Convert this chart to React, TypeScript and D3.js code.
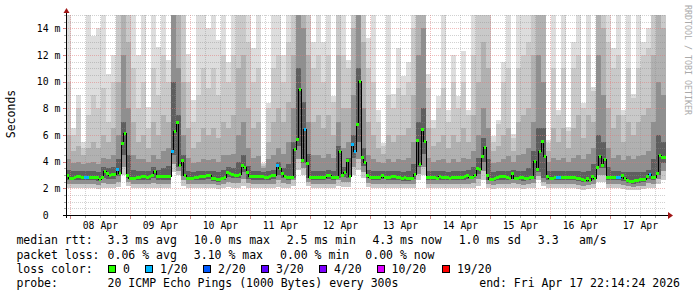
import React from "react";
import * as d3 from "d3";

// ---------------- data ----------------
const END_TIME = new Date(2026, 3, 17, 22, 14, 24);
const SPAN_DAYS = 10;
const Y_MAX_MS = 15;

// hourly median rtt (ms), 240 samples
const medianRtt = [
  3.0, 2.75, 2.75, 2.85, 2.9, 2.9, 2.85, 2.85, 2.85, 2.85,
  2.8, 2.8, 2.8, 2.65, 2.8, 3.3, 3.1, 2.95, 3.05, 3.05,
  3.45, 3.15, 5.4, 6.1, 3.0, 2.75, 2.75, 2.75, 2.8, 2.8,
  2.9, 2.9, 2.85, 2.9, 2.95, 3.3, 2.9, 2.9, 2.9, 2.9,
  2.9, 2.9, 4.75, 6.3, 6.95, 3.75, 4.07, 3.0, 2.75, 2.75,
  2.75, 2.8, 2.85, 2.9, 2.9, 2.9, 2.95, 3.0, 2.75, 2.75,
  2.7, 2.65, 2.75, 2.8, 3.2, 3.15, 3.05, 3.0, 3.0, 3.05,
  3.75, 3.6, 3.2, 2.9, 2.9, 2.9, 2.9, 2.9, 2.9, 2.85,
  2.85, 2.9, 2.95, 3.0, 3.75, 3.5, 3.1, 2.9, 2.8, 2.8,
  2.8, 4.9, 5.7, 9.45, 4.1, 6.4, 3.9, 2.85, 2.85, 2.8,
  2.85, 2.85, 2.8, 2.85, 2.95, 2.95, 2.85, 2.85, 2.8, 4.8,
  3.0, 3.2, 4.07, 2.9, 5.3, 4.75, 6.8, 10.0, 4.3, 3.95,
  3.0, 2.85, 2.85, 2.85, 2.85, 2.85, 2.95, 2.85, 2.85, 2.8,
  2.9, 2.9, 2.85, 2.8, 2.75, 2.8, 2.75, 2.75, 2.75, 3.05,
  5.6, 3.8, 6.4, 5.5, 2.85, 2.8, 2.8, 2.8, 2.75, 2.9,
  2.85, 2.8, 2.8, 2.75, 2.8, 2.8, 2.85, 2.85, 2.85, 2.9,
  3.0, 2.85, 2.85, 2.95, 3.5, 3.4, 4.4, 5.1, 3.0, 2.7,
  2.7, 2.75, 2.85, 2.9, 2.9, 2.9, 2.85, 2.75, 3.1, 2.75,
  2.75, 2.85, 2.8, 2.75, 2.75, 2.8, 2.8, 4.0, 3.4, 4.8,
  5.5, 4.4, 2.9, 2.75, 2.75, 2.8, 2.85, 2.85, 2.8, 2.8,
  2.85, 2.85, 2.8, 2.8, 2.75, 2.75, 2.7, 2.6, 2.75, 2.6,
  2.9, 2.75, 3.6, 4.4, 3.75, 4.2, 2.85, 2.8, 2.8, 2.85,
  2.85, 2.85, 2.95, 2.75, 2.6, 2.55, 2.55, 2.6, 2.6, 2.65,
  2.65, 2.7, 2.9, 3.05, 2.8, 2.8, 3.15, 4.45, 4.35, 4.3,
];

// hourly packet loss (%), 240 samples
const lossPct = [
  0, 0, 0, 0, 0, 0, 0, 0.8, 0.8, 0, 0, 0, 0, 0, 0, 0, 0, 0, 0, 0,
  0.8, 0, 0, 0, 0, 0, 0, 0, 0, 0, 0, 0, 0, 0, 0, 0, 0, 0, 0, 0,
  0, 0, 0.8, 0, 0, 0, 0, 0, 0, 0, 0, 0, 0, 0, 0, 0, 0, 0, 0, 0,
  0, 0, 0, 0, 0, 0, 0, 0, 0, 0, 0, 0, 0, 0, 0, 0, 0, 0, 0, 0,
  0, 0, 0, 0, 0.8, 0, 0, 0, 0, 0, 0, 0, 0, 0, 0, 3.1, 0, 0, 0, 0,
  0, 0, 0, 0, 0, 0, 0, 0, 0, 0, 0, 0, 0, 0, 0.8, 1.7, 0, 0, 0, 0,
  0, 0, 0, 0, 0, 0, 0, 0, 0, 0, 0, 0, 0, 0, 0, 0, 0, 0, 0, 0,
  0, 0, 0, 0, 0, 0, 0, 0, 0, 0, 0, 0, 0, 0, 0, 0, 0, 0, 0, 0,
  0, 0, 0, 0, 0, 0, 0, 0, 0, 0, 0, 0, 0, 0, 0, 0, 0, 0, 0, 0,
  0, 0, 0, 0, 0, 0, 0, 0, 0, 0, 0, 0, 0, 0, 0, 0, 0.8, 0.8, 0, 0,
  0, 0, 0, 0, 0, 0, 0, 0, 0, 0, 0, 0, 0, 0, 0, 0, 0, 0, 0, 0,
  0.8, 0.8, 0, 0, 0, 0, 0, 0, 0, 0, 0, 0, 0, 0.8, 0, 0, 0, 0, 0, 0,
];

// two-hourly smoke: ping quantiles (ms), 120 samples each
const smokeMax = [
  16, 6.5, 9.0, 5.5, 16, 13.4, 14, 16, 10.6, 12,
  16, 16, 16, 16, 12, 16, 8.1, 16, 12.6, 16,
  11.6, 16, 16, 16, 12.1, 8.6, 16, 16, 14, 16,
  13.1, 16, 11.5, 16, 16, 16, 16, 12.5, 16, 3.9,
  8.4, 16, 16, 12, 16, 16, 16, 16, 16, 13,
  16, 13, 16, 8.9, 16, 16, 11.6, 16, 16, 16,
  13.3, 16, 7.9, 5.4, 16, 9.1, 12.5, 10.4, 11.5, 16,
  16, 16, 10.6, 7.1, 8.9, 16, 7.9, 12, 8.9, 12.3,
  7.9, 16, 16, 16, 16, 5.9, 7.1, 11.5, 16, 6.1,
  16, 16, 16, 16, 16, 16, 5.6, 16, 7.9, 16,
  6.6, 13, 16, 8.4, 16, 9.6, 16, 16, 16, 12.5,
  16, 7.9, 16, 9.1, 16, 13, 14, 16, 16, 16,
];
const smokeP90 = [
  10, 6.0, 8.0, 5.0, 7.5, 9.0, 8.0, 9.5, 7.0, 10,
  16, 16, 16, 11, 8.0, 10, 6.5, 11, 9.0, 12,
  10, 16, 16, 16, 10, 7.0, 9.0, 11, 9.5, 11,
  9.0, 12, 10, 12, 16, 16, 13, 10, 11, 3.8,
  8.0, 11, 12, 10, 13, 16, 16, 16, 16, 11,
  12, 10, 12, 8.5, 16, 12, 11, 16, 16, 16,
  11, 10, 7.0, 5.2, 9.0, 8.0, 9.5, 9.0, 10, 14,
  16, 16, 9.5, 6.5, 8.0, 9.5, 7.0, 10, 8.0, 10,
  7.5, 12, 16, 16, 16, 5.5, 6.8, 10, 11, 5.8,
  11, 12, 13, 16, 16, 16, 5.4, 11, 7.5, 11,
  6.3, 11, 12, 8.0, 12, 9.3, 16, 16, 13, 11,
  12, 7.5, 11, 8.8, 11, 12, 12.5, 16, 16, 16,
];
const smokeP80 = [
  6.0, 4.8, 5.2, 4.5, 5.0, 5.5, 5.0, 6.0, 5.5, 6.5,
  10, 16, 13, 7.0, 5.5, 6.0, 5.0, 7.0, 6.0, 7.5,
  7.0, 16, 16, 10, 6.5, 5.0, 5.5, 6.5, 6.0, 6.5,
  5.8, 7.0, 6.5, 7.5, 11, 12, 8.0, 6.5, 7.0, 3.7,
  5.5, 7.0, 8.0, 7.0, 8.5, 12, 16, 16, 12, 7.0,
  7.5, 6.5, 7.5, 6.0, 12, 8.0, 8.0, 14, 16, 13,
  7.0, 6.0, 5.0, 4.6, 6.0, 5.5, 6.0, 6.0, 6.5, 9.0,
  16, 16, 6.5, 5.2, 5.5, 6.0, 5.0, 6.0, 5.5, 6.5,
  5.5, 7.5, 10, 13, 11, 4.8, 5.2, 6.0, 6.5, 4.8,
  7.0, 7.5, 8.0, 12, 16, 16, 4.8, 6.5, 5.5, 6.5,
  5.0, 6.5, 7.5, 5.8, 7.5, 7.0, 16, 14, 8.0, 6.5,
  7.5, 5.5, 7.0, 6.0, 7.0, 7.5, 8.0, 12, 16, 14,
];
const smokeP70 = [
  4.2, 3.9, 4.0, 3.8, 3.9, 4.0, 3.8, 4.3, 4.2, 4.5,
  6.0, 12, 8.0, 4.5, 4.2, 4.2, 4.0, 4.5, 4.2, 4.8,
  5.0, 16, 11, 6.0, 4.3, 3.9, 4.0, 4.2, 4.1, 4.2,
  4.0, 4.5, 4.5, 4.6, 6.0, 7.0, 5.0, 4.3, 4.4, 3.5,
  4.2, 4.5, 5.0, 4.6, 5.5, 8.0, 16, 14, 7.0, 4.5,
  4.5, 4.3, 4.6, 4.3, 7.0, 5.0, 5.5, 9.0, 16, 8.0,
  4.5, 4.2, 4.0, 3.9, 4.2, 4.0, 4.2, 4.1, 4.3, 5.5,
  12, 14, 4.3, 4.0, 4.1, 4.2, 3.9, 4.2, 4.0, 4.3,
  4.2, 4.8, 6.0, 8.0, 6.5, 3.9, 4.0, 4.2, 4.4, 4.0,
  4.5, 4.6, 5.0, 7.0, 12, 10, 4.0, 4.3, 4.1, 4.3,
  4.0, 4.3, 4.5, 4.2, 4.6, 5.0, 12, 9.0, 5.0, 4.3,
  4.5, 4.1, 4.4, 4.2, 4.4, 4.5, 4.8, 7.0, 10, 9.0,
];
const smokeP60 = [
  3.4, 3.3, 3.3, 3.3, 3.3, 3.3, 3.2, 3.6, 3.5, 3.6,
  4.2, 7.0, 4.5, 3.4, 3.3, 3.3, 3.3, 3.6, 3.4, 3.5,
  3.7, 10, 7.5, 4.5, 3.3, 3.2, 3.3, 3.3, 3.3, 3.3,
  3.2, 3.4, 3.6, 3.5, 4.0, 4.5, 3.7, 3.3, 3.3, 3.2,
  3.3, 3.4, 4.0, 3.5, 3.8, 5.5, 11, 8.5, 4.6, 3.3,
  3.3, 3.3, 3.4, 3.3, 5.2, 3.6, 4.3, 6.0, 11, 5.0,
  3.4, 3.3, 3.3, 3.3, 3.3, 3.3, 3.3, 3.2, 3.3, 3.8,
  7.0, 8.0, 3.3, 3.3, 3.3, 3.3, 3.2, 3.3, 3.3, 3.3,
  3.4, 3.6, 4.3, 5.8, 4.2, 3.2, 3.3, 3.3, 3.3, 3.4,
  3.3, 3.3, 3.5, 4.8, 6.5, 6.5, 3.3, 3.3, 3.3, 3.3,
  3.3, 3.3, 3.3, 3.2, 3.3, 3.8, 6.0, 5.5, 3.6, 3.3,
  3.3, 3.2, 3.2, 3.2, 3.2, 3.2, 3.4, 4.2, 6.0, 5.5,
];
const smokeP30 = [
  2.6, 2.6, 2.65, 2.65, 2.65, 2.6, 2.55, 2.75, 2.7, 2.7,
  2.9, 4.5, 2.75, 2.6, 2.6, 2.65, 2.65, 2.75, 2.65, 2.65,
  2.65, 4.5, 3.6, 2.9, 2.6, 2.6, 2.65, 2.65, 2.7, 2.55,
  2.5, 2.6, 2.85, 2.75, 2.75, 3.2, 2.7, 2.65, 2.65, 2.65,
  2.65, 2.7, 3.0, 2.75, 2.6, 2.75, 5.2, 3.9, 2.75, 2.65,
  2.65, 2.65, 2.7, 2.65, 2.75, 2.85, 2.75, 4.3, 5.5, 3.7,
  2.75, 2.65, 2.65, 2.7, 2.65, 2.65, 2.6, 2.55, 2.55, 2.7,
  3.6, 4.6, 2.6, 2.6, 2.6, 2.6, 2.6, 2.65, 2.65, 2.65,
  2.7, 2.75, 3.1, 4.0, 2.6, 2.55, 2.65, 2.65, 2.6, 2.7,
  2.6, 2.55, 2.6, 2.7, 3.2, 2.8, 2.6, 2.6, 2.65, 2.6,
  2.65, 2.6, 2.55, 2.45, 2.5, 2.65, 3.5, 3.5, 2.65, 2.65,
  2.65, 2.55, 2.4, 2.35, 2.4, 2.5, 2.7, 2.6, 3.0, 3.9,
];
const smokeP10 = [
  2.3, 2.3, 2.3, 2.3, 2.3, 2.3, 2.25, 2.4, 2.35, 2.35,
  2.5, 3.6, 2.5, 2.3, 2.3, 2.35, 2.35, 2.4, 2.35, 2.35,
  2.35, 3.8, 3.3, 2.6, 2.3, 2.3, 2.3, 2.35, 2.35, 2.3,
  2.25, 2.3, 2.5, 2.4, 2.4, 2.7, 2.4, 2.35, 2.35, 2.35,
  2.35, 2.35, 2.6, 2.4, 2.3, 2.6, 4.2, 3.5, 2.5, 2.35,
  2.35, 2.35, 2.35, 2.35, 2.6, 2.5, 2.5, 3.6, 4.2, 3.2,
  2.4, 2.35, 2.35, 2.35, 2.35, 2.35, 2.3, 2.3, 2.3, 2.35,
  3.1, 3.6, 2.3, 2.3, 2.3, 2.3, 2.3, 2.3, 2.35, 2.35,
  2.35, 2.4, 2.7, 3.3, 2.3, 2.25, 2.35, 2.35, 2.3, 2.4,
  2.3, 2.25, 2.3, 2.4, 2.9, 2.5, 2.3, 2.3, 2.35, 2.3,
  2.35, 2.3, 2.25, 2.2, 2.25, 2.35, 3.0, 3.0, 2.35, 2.35,
  2.35, 2.25, 2.15, 2.1, 2.15, 2.2, 2.4, 2.35, 2.7, 3.3,
];
const smokeMin = [
  2.0, 2.0, 2.0, 2.0, 2.0, 2.0, 1.95, 2.05, 2.05, 2.05,
  2.1, 3.0, 2.2, 2.0, 2.0, 2.0, 2.0, 2.05, 2.0, 2.0,
  2.0, 3.2, 3.0, 2.2, 2.0, 2.0, 2.0, 2.0, 2.0, 2.0,
  1.95, 2.0, 2.1, 2.05, 2.05, 2.2, 2.05, 2.0, 2.0, 2.0,
  2.0, 2.0, 2.1, 2.05, 2.0, 2.2, 3.4, 3.0, 2.2, 2.0,
  2.0, 2.0, 2.0, 2.0, 2.2, 2.1, 2.1, 3.0, 3.4, 2.8,
  2.1, 2.0, 2.0, 2.0, 2.0, 2.0, 2.0, 2.0, 2.0, 2.0,
  2.6, 3.0, 2.0, 2.0, 2.0, 2.0, 2.0, 2.0, 2.0, 2.0,
  2.0, 2.05, 2.2, 2.6, 2.0, 1.95, 2.0, 2.0, 2.0, 2.05,
  2.0, 1.95, 2.0, 2.05, 2.6, 2.2, 2.0, 2.0, 2.0, 2.0,
  2.0, 2.0, 1.95, 1.9, 1.95, 2.0, 2.5, 2.5, 2.0, 2.0,
  2.0, 1.95, 1.9, 1.85, 1.9, 1.95, 2.05, 2.0, 2.3, 2.6,
];

const yTickValues = [0, 2, 4, 6, 8, 10, 12, 14];
const lossLabels = ["0", "1/20", "2/20", "3/20", "4/20", "10/20", "19/20"];
const lossUpper = [0, 1, 2, 3, 4, 10, 19];
const lossColors = ["#26ff00", "#00b8ff", "#0059ff", "#5e00ff", "#7e00ff", "#dd00ff", "#ff0000"];
const rttStats = ["3.3 ms avg", "10.0 ms max", "2.5 ms min", "4.3 ms now", "1.0 ms sd", "3.3", "am/s"];
const lossStats = ["0.06 % avg", "3.10 % max", "0.00 % min", "0.00 % now"];
const probeText = "20 ICMP Echo Pings (1000 Bytes) every 300s";
const PINGS = 20;

// ---------------- layout ----------------
const W = 697, H = 297;
const PX0 = 66, PX1 = 666, PY0 = 215, PY1 = 15;
const MONO = "'DejaVu Sans Mono', monospace";
const rttX = [107.6, 193.8, 286.7, 372.4, 458.7, 537.8, 579];
const lossX = [107.6, 193.8, 280, 365.3];
const boxX = [108.5, 145.5, 203.5, 261.5, 319.5, 377, 442.5];
const LINE_Y = [244, 258.5, 272.5, 287];

const HOUR = 3600e3;
const START = new Date(END_TIME.getTime() - SPAN_DAYS * 24 * HOUR);

function lossColor(pct: number) {
  const lost = (pct / 100) * PINGS;
  if (lost <= 0) return lossColors[0];
  for (let i = 1; i < lossUpper.length; i++) if (lost <= lossUpper[i]) return lossColors[i];
  return lossColors[lossColors.length - 1];
}

export default function App() {
  const x = d3.scaleTime().domain([START, END_TIME]).range([PX0, PX1]);
  const y = d3.scaleLinear().domain([0, Y_MAX_MS]).range([PY0, PY1]);
  const cy = (v: number) => y(Math.min(v, Y_MAX_MS));
  const snap = (v: number) => Math.round(v) + 0.5;

  const smokeT = (i: number) => new Date(START.getTime() + i * 2 * HOUR);
  const medT = (j: number) => new Date(START.getTime() + j * HOUR);

  const bands = [
    { hi: smokeMax, lo: smokeMin, color: "#dddddd" },
    { hi: smokeP90, lo: smokeMin, color: "#c9c9c9" },
    { hi: smokeP80, lo: smokeP10, color: "#b1b1b1" },
    { hi: smokeP70, lo: smokeP10, color: "#8f8f8f" },
    { hi: smokeP60, lo: smokeP30, color: "#5e5e5e" },
  ];
  const nS = smokeMax.length;
  const sIdx = d3.range(nS + 1);
  const bandPath = (hi: number[], lo: number[]) =>
    d3
      .area<number>()
      .x((i) => x(smokeT(i)))
      .y0((i) => cy(lo[Math.min(i, nS - 1)]))
      .y1((i) => cy(hi[Math.min(i, nS - 1)]))
      .curve(d3.curveStepAfter)(sIdx) || "";

  const nM = medianRtt.length;
  const mIdx = d3.range(nM + 1);
  const medLine =
    d3
      .line<number>()
      .x((j) => x(medT(j)))
      .y((j) => y(medianRtt[Math.min(j, nM - 1)]))
      .curve(d3.curveStepAfter)(mIdx) || "";

  const minorY = d3.range(1, 31).map((k) => k * 0.5).filter((v) => v % 2 !== 0);
  const majorY = yTickValues;
  const sixH = d3.timeHour.every(6)!.range(START, END_TIME).filter((d) => d.getHours() !== 0);
  const days = d3.timeDay.range(START, END_TIME);
  const fmt = d3.timeFormat("%d %b");

  const minorGrid = "rgba(140,140,140,0.4)";
  const majorGrid = "rgba(225,120,120,0.5)";

  return (
    <svg
      width={W}
      height={H}
      viewBox={`0 0 ${W} ${H}`}
      style={{ position: "absolute", left: 0, top: 0, background: "#ffffff" }}
      fontFamily={MONO}
    >
      <rect x={0} y={0} width={W} height={H} fill="#ffffff" />

      {/* smoke */}
      <g shapeRendering="crispEdges">
        {bands.map((b, k) => (
          <path key={k} d={bandPath(b.hi, b.lo)} fill={b.color} />
        ))}
      </g>

      {/* grid */}
      <g shapeRendering="crispEdges" strokeDasharray="1,1" strokeWidth={1}>
        {minorY.map((v) => (
          <line key={"my" + v} x1={PX0} x2={PX1} y1={snap(y(v))} y2={snap(y(v))} stroke={minorGrid} />
        ))}
        {sixH.map((d) => (
          <line key={"mx" + d.getTime()} x1={snap(x(d))} x2={snap(x(d))} y1={PY1} y2={PY0} stroke={minorGrid} />
        ))}
        {majorY.filter((v) => v > 0).map((v) => (
          <line key={"My" + v} x1={PX0} x2={PX1} y1={snap(y(v))} y2={snap(y(v))} stroke={majorGrid} />
        ))}
        {days.map((d) => (
          <line key={"Mx" + d.getTime()} x1={snap(x(d))} x2={snap(x(d))} y1={PY1} y2={PY0} stroke={majorGrid} />
        ))}
      </g>

      {/* median line */}
      <path d={medLine} fill="none" stroke="#000000" strokeWidth={1} shapeRendering="crispEdges" />
      <g shapeRendering="crispEdges">
        {medianRtt.map((m, j) => {
          const x0 = x(medT(j));
          const x1 = x(medT(j + 1));
          return (
            <rect key={j} x={x0} y={y(m) - 1.5} width={x1 - x0} height={3} fill={lossColor(lossPct[j])} />
          );
        })}
      </g>

      {/* ticks */}
      <g shapeRendering="crispEdges">
        {minorY.map((v) => (
          <line key={"ty" + v} x1={64} x2={67} y1={snap(y(v))} y2={snap(y(v))} stroke="#a8a8a8" />
        ))}
        {majorY.map((v) => (
          <line key={"tY" + v} x1={63} x2={67} y1={snap(y(v))} y2={snap(y(v))} stroke="#d08080" />
        ))}
        {sixH.map((d) => (
          <line key={"tx" + d.getTime()} x1={snap(x(d))} x2={snap(x(d))} y1={215} y2={218} stroke="#a8a8a8" />
        ))}
        {days.map((d) => (
          <line key={"tX" + d.getTime()} x1={snap(x(d))} x2={snap(x(d))} y1={215} y2={219} stroke="#d08080" />
        ))}
      </g>

      {/* axes */}
      <g shapeRendering="crispEdges">
        <line x1={63} x2={670} y1={215.5} y2={215.5} stroke="#000000" />
        <line x1={66.5} x2={66.5} y1={218} y2={12} stroke="#000000" />
      </g>
      <path d="M668,212 L673,215.5 L668,219 Z" fill="#a01515" />
      <path d="M63.5,13 L66.5,8 L69.5,13 Z" fill="#a01515" />

      {/* y labels */}
      <g fontSize={9.8} fill="#000000">
        {yTickValues.map((v) => (
          <g key={"yl" + v}>
            <text x={48.6} y={y(v) + 3.5} textAnchor="end">
              {String(v)}
            </text>
            {v > 0 && (
              <text x={54.5} y={y(v) + 3.5}>
                m
              </text>
            )}
          </g>
        ))}
      </g>

      {/* x labels */}
      <g fontSize={9.8} fill="#000000" textAnchor="middle">
        {days.map((d) => {
          const noon = d3.timeHour.offset(d, 12);
          if (noon > END_TIME) return null;
          return (
            <text key={"xl" + d.getTime()} x={x(noon)} y={228.5}>
              {fmt(noon)}
            </text>
          );
        })}
      </g>

      {/* titles */}
      <text transform="translate(15,114) rotate(-90)" textAnchor="middle" fontSize={11.5} fill="#000">
        Seconds
      </text>
      <text transform="translate(685,5) rotate(90)" fontSize={8.3} fill="#aaaaaa">
        RRDTOOL / TOBI OETIKER
      </text>

      {/* legend */}
      <g fontSize={11.5} fill="#000000" style={{ whiteSpace: "pre" }}>
        <text x={16.4} y={LINE_Y[0]}>median rtt:</text>
        {rttStats.map((s, i) => (
          <text key={"r" + i} x={rttX[i]} y={LINE_Y[0]}>
            {s}
          </text>
        ))}
        <text x={16.4} y={LINE_Y[1]}>packet loss:</text>
        {lossStats.map((s, i) => (
          <text key={"l" + i} x={lossX[i]} y={LINE_Y[1]}>
            {s}
          </text>
        ))}
        <text x={16.4} y={LINE_Y[2]}>loss color:</text>
        {lossLabels.map((s, i) => (
          <g key={"c" + i}>
            <rect
              x={boxX[i]}
              y={LINE_Y[2] - 7}
              width={7}
              height={7}
              fill={lossColors[i]}
              stroke="#000000"
              strokeWidth={1}
              shapeRendering="crispEdges"
            />
            <text x={boxX[i] + 14.5} y={LINE_Y[2]}>
              {s}
            </text>
          </g>
        ))}
        <text x={16.4} y={LINE_Y[3]}>probe:</text>
        <text x={107.6} y={LINE_Y[3]}>{probeText}</text>
        <text x={680} y={LINE_Y[3]} textAnchor="end">
          {"end: " + d3.timeFormat("%a %b %d %H:%M:%S %Y")(END_TIME)}
        </text>
      </g>
    </svg>
  );
}
